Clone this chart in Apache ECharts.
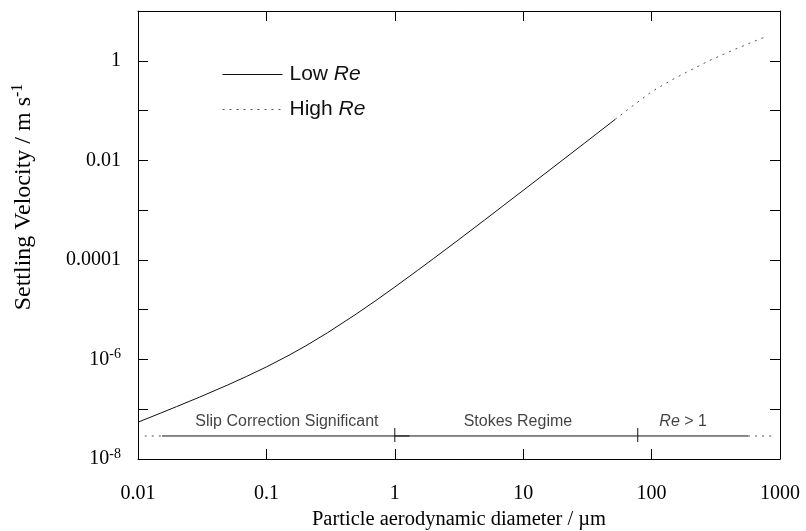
<!DOCTYPE html>
<html>
<head>
<meta charset="utf-8">
<style>
  html, body { margin: 0; padding: 0; background: #fff; }
  #chart { width: 806px; height: 531px; }
</style>
<script src="https://cdn.jsdelivr.net/npm/echarts@6/dist/echarts.min.js"></script>
</head>
<body>
<div id="chart"></div>
<script>
// ---- data ----
const xTickLabels = ['0.01', '0.1', '1', '10', '100', '1000'];          // exponents -2..3
const yTickLabels = ['10{sup|-8}', '', '10{sup|-6}', '', '0.0001', '', '0.01', '', '1', '']; // exponents -8..1

const lowReDiameter = [0.01, 0.015, 0.02, 0.03, 0.05, 0.07, 0.1, 0.15, 0.2, 0.3, 0.5, 0.7, 1, 1.5, 2, 3, 5, 7, 10, 15, 20, 30, 52];
const lowReVelocity = [5.49e-8, 8.35e-8, 1.13e-7, 1.74e-7, 3.07e-7, 4.55e-7, 7.07e-7, 1.215e-6, 1.84e-6, 3.45e-6, 8.16e-6, 1.48e-5, 2.85e-5, 6.12e-5, 1.06e-4, 2.32e-4, 6.32e-4, 1.23e-3, 2.49e-3, 5.57e-3, 9.87e-3, 2.21e-2, 6.64e-2];

const highReDiameter = [52, 70, 100, 140, 200, 280, 400, 600, 800];
const highReVelocity = [6.64e-2, 0.120, 0.240, 0.398, 0.646, 1.0, 1.51, 2.34, 3.16];

// regime bar
const regimeLevel = 2.9e-8;
const regimeTickLow = 2.19e-8;
const regimeTickHigh = 4.19e-8;
const regimeDottedLeft = [0.0113, 0.0154];
const regimeSolidA = [0.0154, 1.3];
const regimeSolidB = [1, 564];
const regimeDottedRight = [564, 870];
const regimeBoundaries = [1, 78];
const regimeLabelText = ['Slip Correction Significant', 'Stokes Regime', '{i|Re} > 1'];
const regimeLabelX = [0.1445, 9.1, 176];
const regimeLabelY = 5.55e-8;

const seriesNames = ['Low Re', 'High Re'];
const legendText = { 'Low Re': 'Low {i|Re}', 'High Re': 'High {i|Re}' };

// ---- build ----
const zip = (xs, ys) => xs.map((x, i) => [x, ys[i]]);
const serif = "'Liberation Serif', 'Times New Roman', serif";
const sans = "'Liberation Sans', Arial, Helvetica, sans-serif";

const chart = echarts.init(document.getElementById('chart'), null, { renderer: 'canvas' });

const segSeries = (pts, dotted) => ({
  type: 'line', data: pts, symbol: 'none', silent: true, animation: false,
  itemStyle: { color: '#000' },
  lineStyle: { color: dotted ? '#555' : '#111', width: 1, type: dotted ? [2, 5] : 'solid' },
  z: 3
});

const baseAxis = {
  type: 'log', logBase: 10,
  axisLine: { show: true, lineStyle: { color: '#000', width: 1 } },
  axisTick: { show: true, inside: true, length: 10, lineStyle: { color: '#000', width: 1 } },
  minorTick: { show: false },
  splitLine: { show: false }
};

const option = {
  backgroundColor: '#fff',
  animation: false,
  grid: { left: 138, right: 26, top: 11, bottom: 72, containLabel: false, outerBoundsMode: 'none' },
  legend: {
    data: seriesNames,
    orient: 'vertical',
    left: 222, top: 64,
    padding: 0,
    itemWidth: 60, itemHeight: 20, itemGap: 14,
    itemStyle: { opacity: 0, borderWidth: 0 },
    lineStyle: { width: 1 },
    formatter: n => legendText[n],
    textStyle: {
      fontFamily: sans, fontSize: 21, color: '#111', padding: [0, 0, 0, 2],
      rich: { i: { fontFamily: sans, fontSize: 21, fontStyle: 'italic', color: '#111' } }
    }
  },
  xAxis: [
    Object.assign({}, baseAxis, {
      position: 'bottom', min: 0.01, max: 1000,
      axisLabel: {
        show: true, margin: 25, fontFamily: serif, fontSize: 20, color: '#000',
        formatter: v => xTickLabels[Math.round(Math.log10(v)) + 2] || ''
      },
      name: 'Particle aerodynamic diameter / \u00b5m',
      nameLocation: 'middle', nameGap: 50,
      nameTextStyle: { fontFamily: serif, fontSize: 20.5, color: '#000' }
    }),
    Object.assign({}, baseAxis, {
      position: 'top', min: 0.01, max: 1000,
      axisLabel: { show: false }
    })
  ],
  yAxis: [
    Object.assign({}, baseAxis, {
      position: 'left', min: 1e-8, max: 10,
      axisLabel: {
        show: true, margin: 17, fontFamily: serif, fontSize: 20, color: '#000', interval: 0,
        formatter: v => yTickLabels[Math.round(Math.log10(v)) + 8] || '',
        rich: { sup: { fontFamily: serif, fontSize: 14, color: '#000', padding: [0, 0, 10, 0] } }
      }
    }),
    Object.assign({}, baseAxis, {
      position: 'right', min: 1e-8, max: 10,
      axisLabel: { show: false }
    })
  ],
  graphic: [{
    type: 'text',
    x: 24, y: 197, rotation: Math.PI / 2,
    style: {
      text: 'Settling Velocity / m s{sup|-1}',
      font: "24px 'Liberation Serif', 'Times New Roman', serif",
      fill: '#000', align: 'center', verticalAlign: 'middle',
      rich: { sup: { fontFamily: serif, fontSize: 16, fill: '#000', padding: [0, 0, 12, 0] } }
    }
  }],
  series: [
    {
      name: seriesNames[0], type: 'line', data: zip(lowReDiameter, lowReVelocity),
      symbol: 'none', smooth: false, itemStyle: { color: '#111' },
      lineStyle: { color: '#111', width: 1, type: 'solid' }, z: 4
    },
    {
      name: seriesNames[1], type: 'line', data: zip(highReDiameter, highReVelocity),
      symbol: 'none', smooth: false, itemStyle: { color: '#555' },
      lineStyle: { color: '#555', width: 1, type: [2, 5] }, z: 4
    },
    segSeries(regimeDottedLeft.map(d => [d, regimeLevel]), true),
    segSeries(regimeSolidA.map(d => [d, regimeLevel]), false),
    segSeries(regimeSolidB.map(d => [d, regimeLevel]), false),
    segSeries(regimeDottedRight.map(d => [d, regimeLevel]), true),
    ...regimeBoundaries.map(d => segSeries([[d, regimeTickLow], [d, regimeTickHigh]], false)),
    {
      type: 'scatter', silent: true, symbolSize: 0, z: 5,
      itemStyle: { color: '#000' },
      data: regimeLabelText.map((t, i) => ({ name: t, value: [regimeLabelX[i], regimeLabelY] })),
      label: {
        show: true, position: 'inside', formatter: p => p.name,
        fontFamily: sans, fontSize: 16, color: '#111',
        rich: { i: { fontFamily: sans, fontSize: 16, fontStyle: 'italic', color: '#111' } }
      }
    }
  ]
};

chart.setOption(option);
</script>
</body>
</html>
